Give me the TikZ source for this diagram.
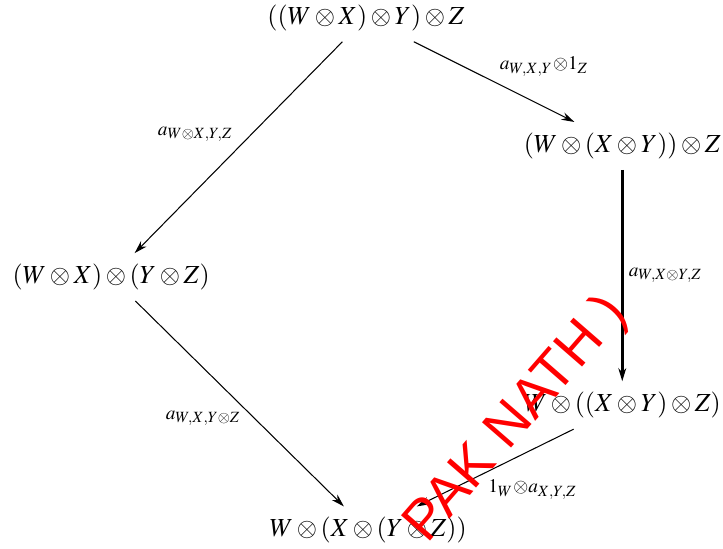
\documentclass[tikz,border=0pt]{standalone}
\usepackage{mathptmx}
\usepackage{fontspec}
\setmainfont{Liberation Serif}
\newfontfamily\markfont{Liberation Sans}
\usetikzlibrary{arrows.meta}
\tikzset{
    obj/.style={inner sep=4pt},
    map/.style={-{Stealth[length=5pt,width=3pt]}},
    lbl/.style={inner sep=2pt},
}

\begin{document}
\begin{tikzpicture}
        \useasboundingbox (0,0) rectangle (9.76,-7.4);

        \node[obj] (t)  at (4.94,-0.24) {$((W\otimes X)\otimes Y)\otimes Z$};
        \node[obj] (r1) at (8.40,-1.97) {$(W\otimes (X\otimes Y))\otimes Z$};
        \node[obj] (l)  at (1.50,-3.74) {$(W\otimes X)\otimes (Y\otimes Z)$};
        \node[obj] (r2) at (8.40,-5.47) {$W\otimes ((X\otimes Y)\otimes Z)$};
        \node[obj] (b)  at (4.97,-7.16) {$W\otimes (X\otimes (Y\otimes Z))$};

        \draw[map] (t) -- node[lbl, above left] {$\scriptstyle a_{W\otimes X,Y,Z}$} (l);
        \draw[map] (t) -- node[lbl, above right] {$\scriptstyle a_{W,X,Y}\otimes 1_Z$} (r1);
        \draw[map, line width=1pt] (r1) -- node[lbl, right] {$\scriptstyle a_{W,X\otimes Y,Z}$} (r2);
        \draw[map] (l) -- node[lbl, pos=0.57, left=3pt] {$\scriptstyle a_{W,X,Y\otimes Z}$} (b);
        \draw[map] (r2) -- node[lbl, pos=0.58, below right] {$\scriptstyle 1_W\otimes a_{X,Y,Z}$} (b);

        % red mark over the lower right
        \node[text=red, rotate=49, font=\markfont\fontsize{21.5}{26}\selectfont] (mark) at (6.98,-5.67) {PAK NATH )};
\end{tikzpicture}
\end{document}
